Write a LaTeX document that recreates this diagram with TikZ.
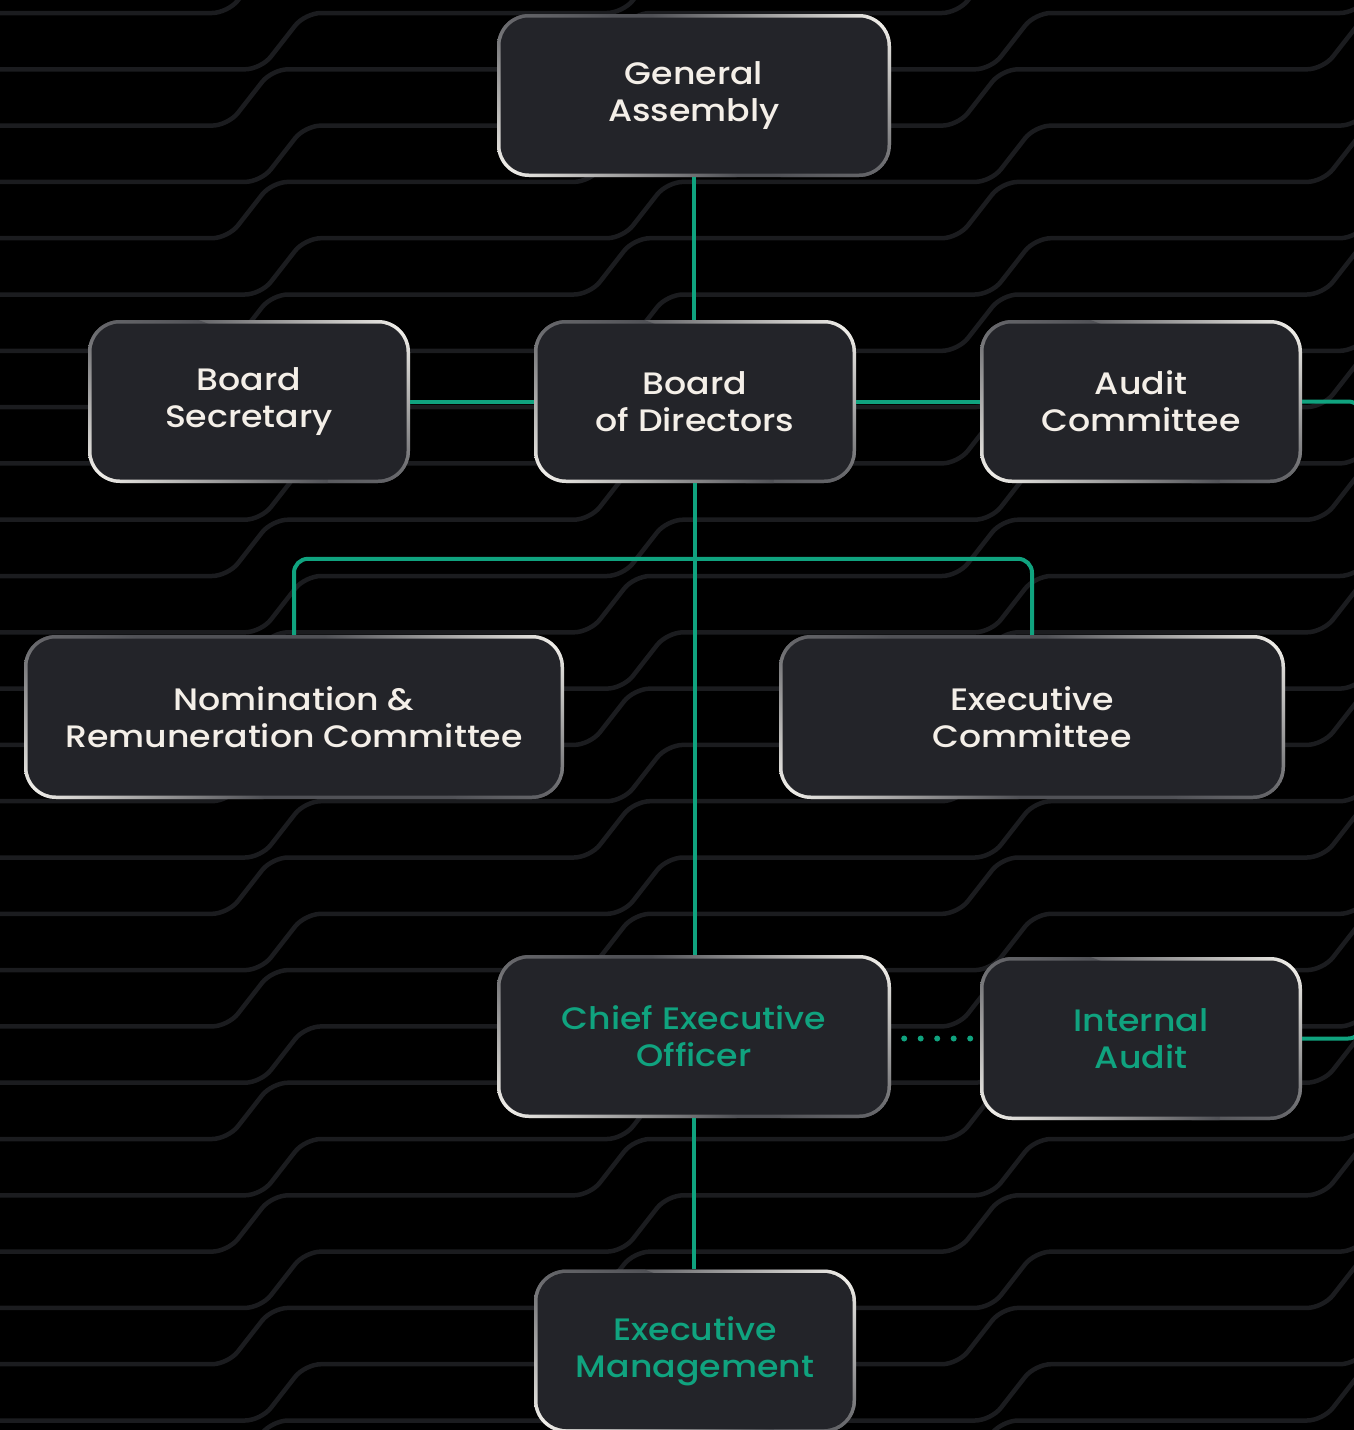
\documentclass[tikz,border=0pt]{standalone}
\usepackage{fontspec}
\setmainfont{Poppins}[UprightFont=* Medium, FakeStretch=1.12]
\usepackage{tikz}
\usepackage{xcolor}
\definecolor{mGreen}{HTML}{10A37F}
\definecolor{mBox}{HTML}{232429}
\definecolor{mRimDark}{HTML}{505156}
\definecolor{mRimLight}{HTML}{F0EEE9}
\definecolor{mText}{HTML}{F4EFE8}
\definecolor{mLine}{HTML}{1B1C1F}
\newcommand{\boxfont}{\fontsize{31}{37}\selectfont}

\begin{document}
\begin{tikzpicture}[
  x=1pt, y=-1pt,
  unit/.style={rounded corners=32pt, minimum width=322pt, minimum height=163pt,
               inner sep=0pt, align=center, text=mText, font=\boxfont,
               path picture={
                 \fill[mRimDark] (path picture bounding box.south west) rectangle
                   (path picture bounding box.north east);
                 \shade[inner color=mRimLight, outer color=mRimDark]
                   ([shift={(-10pt,-10pt)}]path picture bounding box.north east)
                   ellipse [x radius=230pt, y radius=170pt];
                 \shade[inner color=mRimLight, outer color=mRimDark]
                   ([shift={(10pt,10pt)}]path picture bounding box.south west)
                   ellipse [x radius=230pt, y radius=170pt];
                 \fill[mBox, rounded corners=28.5pt]
                   ([shift={(3.5pt,3.5pt)}]path picture bounding box.south west) rectangle
                   ([shift={(-3.5pt,-3.5pt)}]path picture bounding box.north east);
               }},
  greenunit/.style={unit, text=mGreen},
  link/.style={mGreen, line width=4pt},
  bgline/.style={mLine, line width=4.5pt, rounded corners=16pt},
]
  \useasboundingbox (0,0) rectangle (1354,1430);
  \clip (0,0) rectangle (1354,1430);

  % Background traces
  \fill[black] (0,0) rectangle (1354,1430);
  \foreach \k in {0,...,31}{
    \pgfmathsetmacro\dx{(1-mod(\k,2))*33}
    \pgfmathsetmacro\ya{\k*56.3-43.3}
    \draw[bgline] (-30,\ya) -- (228+\dx,\ya) -- (272+\dx,\ya-56.3)
      -- (590+\dx,\ya-56.3) -- (634+\dx,\ya-112.6)
      -- (958+\dx,\ya-112.6) -- (1002+\dx,\ya-168.9)
      -- (1323+\dx,\ya-168.9) -- (1367+\dx,\ya-225.2) -- (1420,\ya-225.2);
  }

  % Governing bodies
  \node[unit, minimum width=394pt] (ga) at (694,95.5) {General\\Assembly};
  \node[unit] (secretary) at (249,401.5) {Board\\Secretary};
  \node[unit] (board) at (695,401.5) {Board\\of Directors};
  \node[unit] (audit) at (1141,401.5) {Audit\\Committee};

  % Committees
  \node[unit, minimum width=540pt, minimum height=164pt] (nomination) at (294,717)
    {Nomination \&\\Remuneration Committee};
  \node[unit, minimum width=506pt, minimum height=164pt] (execcom) at (1032,717)
    {Executive\\Committee};

  % Management
  \node[greenunit, minimum width=394pt] (ceo) at (694,1036.5) {Chief Executive\\Officer};
  \node[greenunit] (intaudit) at (1141,1038.5) {Internal\\Audit};
  \node[greenunit] (mgmt) at (695,1351) {Executive\\Management};

  % Links
  \draw[link] (ga.south) -- (ga.south |- board.north);
  \draw[link] (board.west) -- (secretary.east);
  \draw[link] (board.east) -- (audit.west);
  \draw[link] (board.south) -- (board.south |- ceo.north);
  \draw[link, rounded corners=14pt] (nomination.north) -- ++(0,-76) -| (execcom.north);
  \draw[link, rounded corners=14pt] (audit.east) -- ++(60,0) |- (intaudit.east);
  \draw[link] (ceo.south) -- (ceo.south |- mgmt.north);
  \draw[mGreen, line width=6pt, line cap=round, dash pattern=on 0pt off 16.5pt,
        shorten <=13pt, shorten >=9pt] (ceo.east |- intaudit.east) -- (intaudit.west);
\end{tikzpicture}
\end{document}
